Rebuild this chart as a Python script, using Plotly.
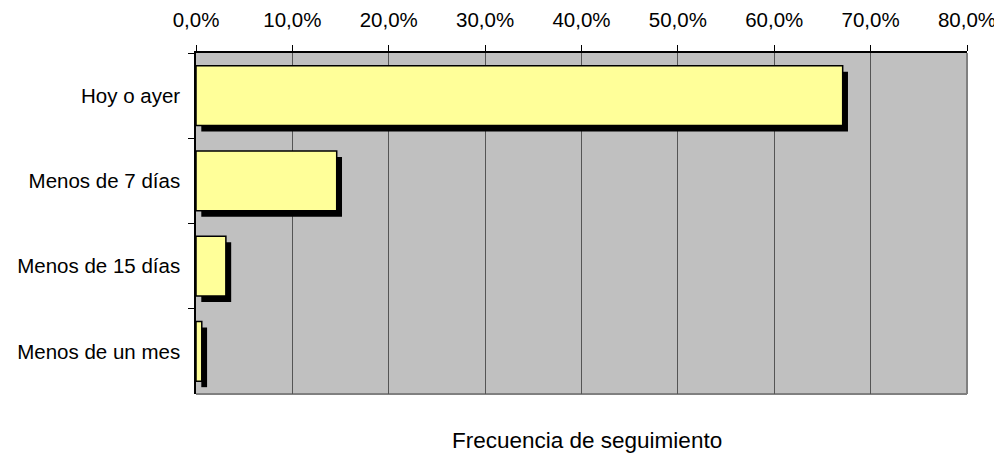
import plotly.graph_objects as go

categories = ["Hoy o ayer", "Menos de 7 días", "Menos de 15 días", "Menos de un mes"]
values = [67.1, 14.6, 3.1, 0.6]
tick_vals = [0, 10, 20, 30, 40, 50, 60, 70, 80]
tick_text = [f"{v:.1f}%".replace(".", ",") for v in tick_vals]

shadow_dx = 0.55  # % units (approx 6px)
BAR_W = 0.7
FONT = "Liberation Sans, Arial, sans-serif"
TICK_SIZE = 20.5

fig = go.Figure()
# shadow
fig.add_trace(go.Bar(
    y=categories, x=values, base=[shadow_dx] * len(values), orientation="h",
    width=BAR_W, offset=-BAR_W / 2 + 0.07,
    marker=dict(color="black", line=dict(width=0)),
    hoverinfo="skip", showlegend=False,
))
# main bars
fig.add_trace(go.Bar(
    y=categories, x=values, orientation="h",
    width=BAR_W, offset=-BAR_W / 2,
    marker=dict(color="#FFFF99", line=dict(color="black", width=1.5)),
    showlegend=False,
))

fig.update_layout(
    width=1002, height=459,
    margin=dict(l=188, r=43, t=45, b=73, autoexpand=False),
    barmode="overlay",
    paper_bgcolor="white",
    plot_bgcolor="#C0C0C0",
    font=dict(family=FONT, size=TICK_SIZE, color="black"),
    xaxis=dict(
        side="top", range=[0, 80], tickmode="array", tickvals=tick_vals, ticktext=tick_text,
        tickfont=dict(family=FONT, size=TICK_SIZE, color="black"),
        showgrid=True, gridcolor="#555555", gridwidth=1,
        showline=True, linecolor="black", linewidth=1.5,
        ticks="outside", ticklen=6, tickcolor="black", ticklabelstandoff=10,
        zeroline=False, fixedrange=True,
    ),
    yaxis=dict(
        autorange="reversed", showgrid=False,
        tickfont=dict(family=FONT, size=TICK_SIZE, color="black"),
        showline=True, linecolor="black", linewidth=1.5,
        ticks="outside", ticklen=6, tickcolor="black", tickson="boundaries",
        ticklabelstandoff=10,
    ),
    shapes=[
        dict(type="line", xref="paper", yref="paper", x0=1, x1=1, y0=0, y1=1,
             line=dict(color="#808080", width=2), layer="below"),
        dict(type="line", xref="paper", yref="paper", x0=0, x1=1, y0=0, y1=0,
             line=dict(color="#808080", width=2), layer="below"),
    ],
    annotations=[
        dict(text="Frecuencia de seguimiento", xref="paper", yref="paper",
             x=0.507, y=0, yshift=-46, xanchor="center", yanchor="middle",
             showarrow=False, font=dict(family=FONT, size=22.5)),
    ],
)

fig.write_html("out.html")
